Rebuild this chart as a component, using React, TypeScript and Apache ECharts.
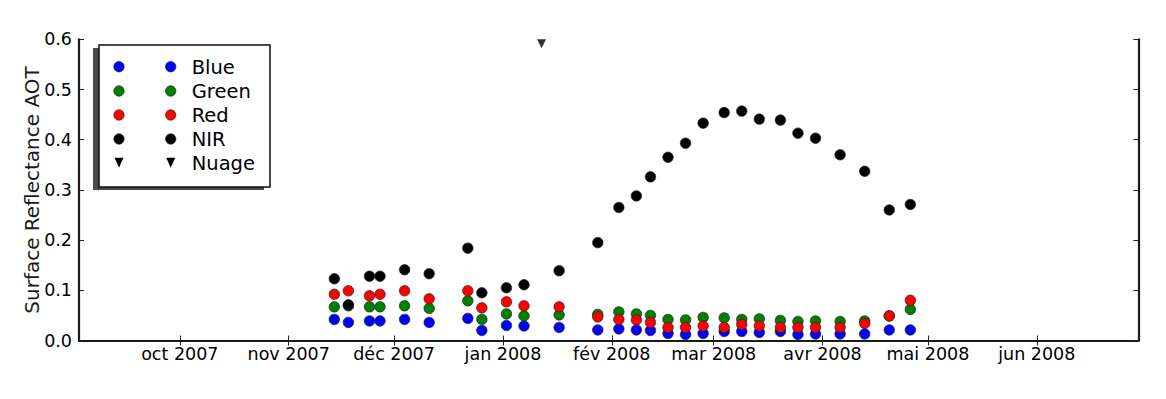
import React, { useEffect, useRef } from "react";
import * as echarts from "echarts";

// ---- data ----
const dates = [
  "2007-11-14", "2007-11-18", "2007-11-24", "2007-11-27", "2007-12-04", "2007-12-11",
  "2007-12-22", "2007-12-26", "2008-01-02", "2008-01-07", "2008-01-17", "2008-01-28",
  "2008-02-03", "2008-02-08", "2008-02-12", "2008-02-17", "2008-02-22", "2008-02-27",
  "2008-03-04", "2008-03-09", "2008-03-14", "2008-03-20", "2008-03-25", "2008-03-30",
  "2008-04-06", "2008-04-13", "2008-04-20", "2008-04-26",
];
const blue = [0.042, 0.036, 0.039, 0.039, 0.042, 0.036, 0.044, 0.020, 0.030, 0.029, 0.026, 0.021, 0.023, 0.021, 0.020, 0.014, 0.012, 0.014, 0.018, 0.018, 0.016, 0.018, 0.012, 0.013, 0.013, 0.013, 0.021, 0.021];
const green = [0.067, 0.069, 0.067, 0.067, 0.069, 0.064, 0.079, 0.042, 0.053, 0.049, 0.051, 0.052, 0.057, 0.053, 0.050, 0.042, 0.041, 0.046, 0.045, 0.042, 0.043, 0.040, 0.038, 0.039, 0.038, 0.039, 0.049, 0.062];
const red = [0.092, 0.099, 0.089, 0.092, 0.099, 0.083, 0.099, 0.065, 0.077, 0.069, 0.067, 0.047, 0.042, 0.041, 0.036, 0.026, 0.026, 0.029, 0.026, 0.032, 0.029, 0.026, 0.026, 0.026, 0.026, 0.034, 0.049, 0.080];
const nir = [0.123, 0.071, 0.128, 0.128, 0.141, 0.133, 0.184, 0.095, 0.105, 0.111, 0.139, 0.195, 0.265, 0.288, 0.326, 0.365, 0.393, 0.433, 0.454, 0.457, 0.441, 0.439, 0.413, 0.403, 0.370, 0.337, 0.260, 0.271];
const nuageDates = ["2008-01-12"];
const nuageValues = [0.6];

const seriesNames = ["Blue", "Green", "Red", "NIR", "Nuage"];
const seriesColors = ["#0000ff", "#008000", "#ff0000", "#000000", "#000000"];
const yAxisTitle = "Surface Reflectance AOT";

const monthTicks = [
  "2007-10-01", "2007-11-01", "2007-12-01", "2008-01-01", "2008-02-01",
  "2008-03-01", "2008-04-01", "2008-05-01", "2008-06-01",
];
const monthLabels = [
  "oct 2007", "nov 2007", "déc 2007", "jan 2008", "fév 2008",
  "mar 2008", "avr 2008", "mai 2008", "jun 2008",
];
const yTicks = [0, 0.1, 0.2, 0.3, 0.4, 0.5, 0.6];

const DAY = 86400000;
const toMs = (s: string) => {
  const [y, m, d] = s.split("-").map(Number);
  return Date.UTC(y, m - 1, d);
};
const xMin = toMs("2007-10-01") - 28.7 * DAY;
const xMax = toMs("2008-06-01") + 28.9 * DAY;
const tickMs = monthTicks.map(toMs);
const labelFor = (v: number) => {
  const i = tickMs.indexOf(v);
  return i >= 0 ? monthLabels[i] : "";
};

const FONT = "DejaVu Sans";

export default function App() {
  const ref = useRef<HTMLDivElement>(null);
  useEffect(() => {
    if (!ref.current) return;
    const chart = echarts.init(ref.current, undefined, { renderer: "svg" });

    const pts = (vals: number[]) => dates.map((d, i) => [toMs(d), vals[i]]);
    const circleSeries = [blue, green, red, nir].map((vals, k) => ({
      name: seriesNames[k],
      type: "scatter",
      data: pts(vals),
      symbol: "circle",
      symbolSize: 10.5,
      itemStyle: { color: seriesColors[k], borderColor: "#222", borderWidth: 0.7, opacity: 1 },
      z: 3 + k,
    }));

    const frameLine = { show: true, lineStyle: { color: "#1a1a1a", width: 2.2 } };
    const tick = { show: true, inside: true, length: 5, lineStyle: { color: "#222", width: 1 } };

    // legend drawn as graphic (two markers per entry as in the reference)
    const lgX = 99, lgY = 45, lgW = 171, lgH = 142;
    const rowY = [66.7, 91, 115, 139, 162.7];
    const mx = [119, 170.7];
    const legendEls: any[] = [
      { type: "rect", shape: { x: lgX - 6, y: lgY + 3, width: lgW, height: lgH }, style: { fill: "#4a4a4a" }, z: 100 },
      { type: "rect", shape: { x: lgX, y: lgY, width: lgW, height: lgH }, style: { fill: "#fff", stroke: "#111", lineWidth: 1.5 }, z: 101 },
    ];
    seriesNames.forEach((name, i) => {
      mx.forEach((x) => {
        if (i < 4) {
          legendEls.push({ type: "circle", shape: { cx: x, cy: rowY[i], r: 5.2 }, style: { fill: seriesColors[i], stroke: "#222", lineWidth: 0.7 }, z: 102 });
        } else {
          legendEls.push({ type: "polygon", shape: { points: [[x - 4.5, rowY[i] - 5], [x + 4.5, rowY[i] - 5], [x, rowY[i] + 5]] }, style: { fill: "#000" }, z: 102 });
        }
      });
      legendEls.push({
        type: "text", x: 191.7, y: rowY[i] + 0.5, z: 102,
        style: { text: name, fill: "#000", font: `19.5px "${FONT}"`, textVerticalAlign: "middle", textAlign: "left" },
      });
    });
    legendEls.push({
      type: "text", x: 32, y: 190, rotation: Math.PI / 2, z: 50,
      style: { text: yAxisTitle, fill: "#1a1a1a", font: `20px "${FONT}"`, textAlign: "center", textVerticalAlign: "middle" },
    });

    chart.setOption({
      animation: false,
      backgroundColor: "#fff",
      textStyle: { fontFamily: FONT },
      grid: { left: 79, right: 27.7, top: 39.3, bottom: 58.5, containLabel: false },
      xAxis: [
        {
          type: "value", position: "bottom", min: xMin, max: xMax,
          axisLine: frameLine, splitLine: { show: false },
          axisTick: { ...tick, customValues: tickMs },
          axisLabel: { customValues: tickMs, formatter: labelFor, fontSize: 17.5, color: "#000", fontFamily: FONT, margin: 4 },
        },
        {
          type: "value", position: "top", min: xMin, max: xMax,
          axisLine: frameLine, splitLine: { show: false },
          axisTick: { ...tick, customValues: tickMs },
          axisLabel: { show: false },
        },
      ],
      yAxis: [
        {
          type: "value", position: "left", min: 0, max: 0.6, interval: 0.1,
          axisLine: frameLine, splitLine: { show: false },
          axisTick: { ...tick, customValues: yTicks },
          axisLabel: { formatter: (v: number) => v.toFixed(1), fontSize: 17.5, color: "#000", fontFamily: FONT, margin: 7 },
        },
        {
          type: "value", position: "right", min: 0, max: 0.6, interval: 0.1,
          axisLine: frameLine, splitLine: { show: false },
          axisTick: { ...tick, customValues: yTicks },
          axisLabel: { show: false },
        },
      ],
      series: [
        ...circleSeries,
        {
          name: seriesNames[4],
          type: "scatter",
          data: nuageDates.map((d, i) => [toMs(d), nuageValues[i]]),
          symbol: "triangle",
          symbolRotate: 180,
          symbolSize: [9, 9],
          symbolOffset: [0, 4.5],
          clip: false,
          itemStyle: { color: seriesColors[4] },
          z: 8,
        },
      ],
      graphic: legendEls,
    });
    return () => chart.dispose();
  }, []);
  return <div ref={ref} style={{ position: "fixed", left: 0, top: 0, width: 1166, height: 399 }} />;
}
